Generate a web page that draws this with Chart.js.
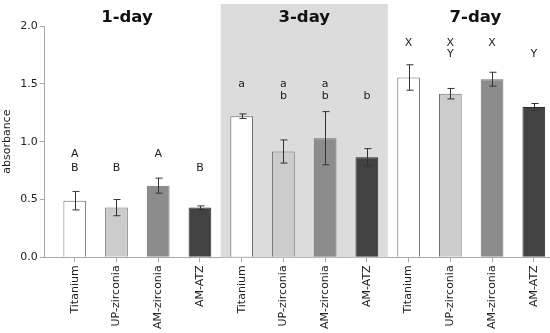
<!DOCTYPE html>
<html>
<head>
<meta charset="utf-8">
<script src="https://cdn.jsdelivr.net/npm/chart.js@4/dist/chart.umd.min.js"></script>
<style>
  html, body { margin: 0; padding: 0; background: #fff; }
  #wrap { width: 550px; height: 333px; position: relative; }
</style>
</head>
<body>
<div id="wrap"><canvas id="absChart"></canvas></div>
<script>
const dayNames = ['1-day', '3-day', '7-day'];
const materials = ['Titanium', 'UP-zirconia', 'AM-zirconia', 'AM-ATZ'];
const materialColors = ['#ffffff', '#cccccc', '#8c8c8c', '#424242'];

const day1 = [0.49, 0.43, 0.62, 0.43];
const day1Err = [0.08, 0.07, 0.065, 0.015];
const day3 = [1.22, 0.915, 1.03, 0.865];
const day3Err = [0.02, 0.10, 0.23, 0.075];
const day7 = [1.555, 1.415, 1.54, 1.30];
const day7Err = [0.11, 0.045, 0.06, 0.03];

// significance letters (upper row, lower row)
const day1Letters = [['A', 'B'], ['', 'B'], ['A', ''], ['', 'B']];
const day3Letters = [['a', ''], ['a', 'b'], ['a', 'b'], ['', 'b']];
const day7Letters = [['X', ''], ['X', 'Y'], ['X', ''], ['', 'Y']];

const yTicks = [0, 0.5, 1.0, 1.5, 2.0];

// flatten for the chart
const values = [...day1, ...day3, ...day7];
const errors = [...day1Err, ...day3Err, ...day7Err];
const letters = [...day1Letters, ...day3Letters, ...day7Letters];
const barLabels = values.map((_, i) => materials[i % 4]);
const barColors = values.map((_, i) => materialColors[i % 4]);
const barBorders = values.map((_, i) => (i % 4 === 3 ? '#2a2a2a' : '#707070'));

const FONT = '"DejaVu Sans", Verdana, sans-serif';

// gray band behind the 3-day group + day titles + letters + error bars
const decorations = {
  id: 'decorations',
  beforeDatasetsDraw(chart) {
    const { ctx, scales: { x }, chartArea } = chart;
    const left = x.getPixelForValue(3.5);
    const right = x.getPixelForValue(7.5);
    ctx.save();
    ctx.fillStyle = '#dcdcdc';
    ctx.fillRect(left, 4, right - left, chartArea.bottom - 4);
    ctx.restore();
  },
  afterDatasetsDraw(chart) {
    const { ctx, scales: { x, y } } = chart;
    const meta = chart.getDatasetMeta(0);

    // error bars
    ctx.save();
    ctx.strokeStyle = '#333';
    ctx.lineWidth = 1;
    meta.data.forEach((bar, i) => {
      const cx = Math.round(bar.x) + 0.5;
      const yHi = y.getPixelForValue(values[i] + errors[i]);
      const yLo = y.getPixelForValue(values[i] - errors[i]);
      ctx.beginPath();
      ctx.moveTo(cx, yHi); ctx.lineTo(cx, yLo);
      ctx.moveTo(cx - 3, yHi); ctx.lineTo(cx + 4, yHi);
      ctx.moveTo(cx - 3, yLo); ctx.lineTo(cx + 4, yLo);
      ctx.stroke();
    });
    ctx.restore();

    // day titles
    const titleX = [1.25, 5.5, 9.6];
    ctx.save();
    ctx.fillStyle = '#111';
    ctx.font = 'bold 16.5px ' + FONT;
    ctx.textAlign = 'center';
    ctx.textBaseline = 'middle';
    dayNames.forEach((name, g) => {
      ctx.fillText(name, x.getPixelForValue(titleX[g]), 18);
    });
    ctx.restore();

    // letters: rows in value units per group
    const rows = [[0.89, 0.77], [1.50, 1.39], [1.85, 1.76]];
    ctx.save();
    ctx.fillStyle = '#222';
    ctx.font = '11px ' + FONT;
    ctx.textAlign = 'center';
    ctx.textBaseline = 'middle';
    letters.forEach((pair, i) => {
      const g = Math.floor(i / 4);
      pair.forEach((t, r) => {
        if (t) ctx.fillText(t, meta.data[i].x, y.getPixelForValue(rows[g][r]));
      });
    });
    ctx.restore();
  }
};

new Chart(document.getElementById('absChart'), {
  type: 'bar',
  data: {
    datasets: [{
      data: values.map((v, i) => ({ x: i, y: v })),
      backgroundColor: barColors,
      borderColor: barBorders,
      borderWidth: 1,
      barPercentage: 0.68,
      categoryPercentage: 0.8
    }]
  },
  options: {
    responsive: true,
    maintainAspectRatio: false,
    animation: false,
    layout: { padding: { top: 26, left: 1, right: 0, bottom: 1 } },
    plugins: {
      legend: { display: false },
      tooltip: { enabled: false }
    },
    scales: {
      x: {
        type: 'linear',
        offset: false,
        min: -0.72,
        max: 11.38,
        afterBuildTicks: (scale) => {
          scale.ticks = barLabels.map((_, i) => ({ value: i }));
        },
        ticks: {
          minRotation: 90,
          maxRotation: 90,
          autoSkip: false,
          padding: 3,
          color: '#222',
          font: { family: FONT, size: 11 },
          callback: (v) => barLabels[v]
        },
        grid: { display: true, offset: false, drawOnChartArea: false, drawTicks: true, tickLength: 5, color: '#a8a8a8' },
        border: { color: '#a8a8a8', width: 1 }
      },
      y: {
        min: 0,
        max: 2,
        afterBuildTicks: (scale) => {
          scale.ticks = yTicks.map(v => ({ value: v }));
        },
        ticks: {
          color: '#222',
          padding: 2,
          font: { family: FONT, size: 11 },
          callback: (v) => v.toFixed(1)
        },
        title: {
          display: true,
          text: 'absorbance',
          color: '#222',
          padding: { top: 0, bottom: 4 },
          font: { family: FONT, size: 11 }
        },
        grid: { display: true, drawOnChartArea: false, drawTicks: true, tickLength: 5, color: '#a8a8a8' },
        border: { color: '#a8a8a8', width: 1 }
      }
    }
  },
  plugins: [decorations]
});
</script>
</body>
</html>
